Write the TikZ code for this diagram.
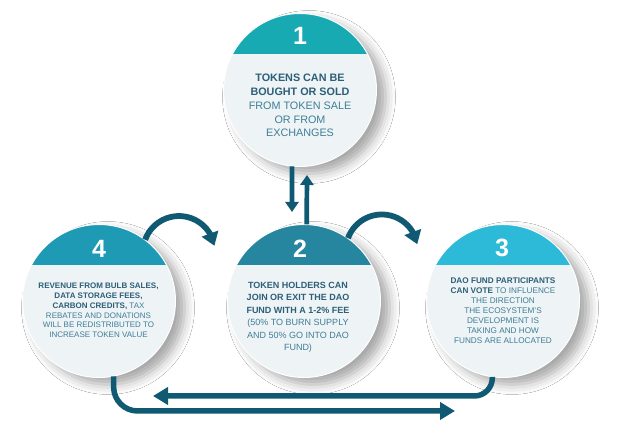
\documentclass[tikz,border=0pt]{standalone}
\usepackage{fontspec}
\setmainfont{Liberation Sans}
\usetikzlibrary{arrows.meta,bending,shadows.blur}
\definecolor{arrowc}{HTML}{0F5A72}
\definecolor{discfill}{HTML}{EEF3F5}
\definecolor{bandA}{HTML}{17AAB2}
\definecolor{bandB}{HTML}{26869F}
\definecolor{bandC}{HTML}{2DB9D8}
\definecolor{bandD}{HTML}{1E9AB4}
\definecolor{txtc}{HTML}{3E7E98}
\definecolor{boldc}{HTML}{2C5F78}
\newcommand\boldpart[1]{\textcolor{boldc}{\bfseries #1}}
\begin{document}
\begin{tikzpicture}[x=1pt,y=1pt,
  disc/.style={circle, minimum size=153pt, inner sep=0pt, fill=discfill,
    blur shadow={shadow xshift=9pt, shadow yshift=-7pt, shadow blur radius=10pt, shadow opacity=35}},
  rim/.style={draw=white, line width=1pt},
  num/.style={text=white, font=\fontsize{25}{25}\selectfont\bfseries, inner sep=0pt},
  body/.style={align=center, inner sep=0pt, anchor=north, text=txtc},
  vflow/.style={draw=arrowc, line width=4.7pt, -{Triangle[length=10pt,width=13pt]}},
  cflow/.style={draw=arrowc, line width=5.8pt, -{Triangle[length=13pt,width=17pt]}},
  bflow/.style={draw=arrowc, line width=5.5pt, -{Triangle[length=15pt,width=17pt]}},
]
\useasboundingbox (0,0) rectangle (640,435);
\fill[white] (0,0) rectangle (640,435);

% circles
\node[disc] (c1) at (300,345) {};
\node[disc] (c4) at (99,134) {};
\node[disc] (c2) at (304,134) {};
\node[disc] (c3) at (503,134) {};

% bands
\begin{scope}
  \clip (c1.center) circle[radius=76.5];
  \fill[bandA] (200,381) rectangle (400,440);
\end{scope}
\begin{scope}
  \clip (c4.center) circle[radius=76.5];
  \fill[bandD] (0,170) rectangle (200,240);
\end{scope}
\begin{scope}
  \clip (c2.center) circle[radius=76.5];
  \fill[bandB] (200,170) rectangle (400,240);
\end{scope}
\begin{scope}
  \clip (c3.center) circle[radius=76.5];
  \fill[bandC] (400,170) rectangle (600,240);
\end{scope}
\draw[rim] (c1.center) circle[radius=76.5];
\draw[rim] (c2.center) circle[radius=76.5];
\draw[rim] (c3.center) circle[radius=76.5];
\draw[rim] (c4.center) circle[radius=76.5];

% numbers
\node[num] (n1) at (300,399) {1};
\node[num] (n4) at (99,186) {4};
\node[num] (n2) at (300,186) {2};
\node[num] (n3) at (502,187) {3};

% texts
\node[body, font=\fontsize{10.8}{13.8}\selectfont] (t1) at (300,361)
  {\boldpart{TOKENS CAN BE}\\\boldpart{BOUGHT OR SOLD}\\FROM TOKEN SALE\\OR FROM\\EXCHANGES};
\node[body, font=\fontsize{8}{9.8}\selectfont] (t4) at (98.5,152)
  {\boldpart{REVENUE FROM BULB SALES,}\\\boldpart{DATA STORAGE FEES,}\\\boldpart{CARBON CREDITS,} TAX\\REBATES AND DONATIONS\\WILL BE REDISTRIBUTED TO\\INCREASE TOKEN VALUE};
\node[body, font=\fontsize{9}{12.5}\selectfont] (t2) at (298,153)
  {\boldpart{TOKEN HOLDERS CAN}\\\boldpart{JOIN OR EXIT THE DAO}\\\boldpart{FUND WITH A 1-2\% FEE}\\(50\% TO BURN SUPPLY\\AND 50\% GO INTO DAO\\FUND)};
\node[body, font=\fontsize{8.2}{10}\selectfont] (t3) at (503,157)
  {\boldpart{DAO FUND PARTICIPANTS}\\\boldpart{CAN VOTE} TO INFLUENCE\\THE DIRECTION\\THE ECOSYSTEM'S\\DEVELOPMENT IS\\TAKING AND HOW\\FUNDS ARE ALLOCATED};

% vertical arrows between 1 and 2
\coordinate (d1) at (292,223);
\coordinate (u1) at (307,260);
\draw[vflow] (c1.264) -- (d1);
\draw[vflow] (c2.88) -- (u1);

% curved arrows
\draw[cflow] (c4.53) arc[start angle=160, end angle=10, radius=36];
\draw[cflow] (c2.55) arc[start angle=160, end angle=10, radius=36];

% bottom arrows
\coordinate (bL) at (153,39);
\coordinate (bR) at (455,24);
\draw[bflow, rounded corners=18pt] (c3.262) |- (bL);
\draw[bflow, rounded corners=24pt] (c4.281) |- (bR);
\end{tikzpicture}
\end{document}
